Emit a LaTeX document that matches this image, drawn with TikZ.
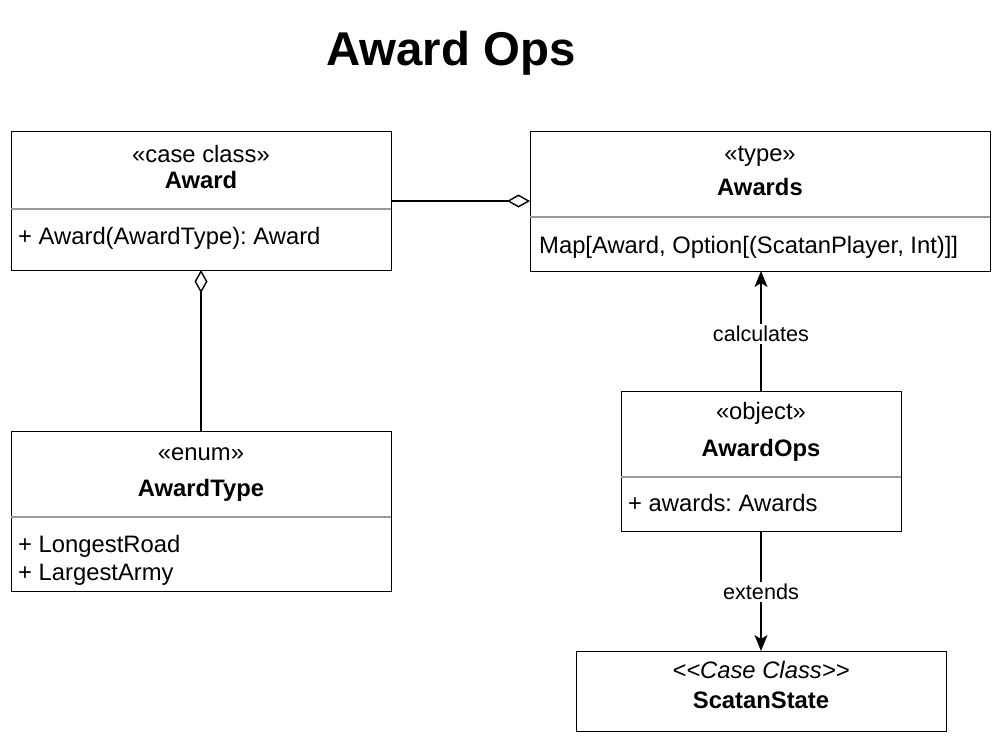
\documentclass[tikz,border=0pt]{standalone}
\usepackage{fontspec}
\setmainfont{Liberation Sans}[Ligatures=TeXOff]
\usetikzlibrary{arrows.meta}
\frenchspacing
\begin{document}
\frenchspacing
\begin{tikzpicture}[x=1pt,y=-1pt,
  box/.style={draw=black,line width=1.4pt,fill=white,rectangle,anchor=north west,inner sep=0pt},
  sep/.style={draw=black!40,line width=1.2pt},
  txt/.style={inner sep=0pt,anchor=base,font=\fontsize{23.8}{28}\selectfont},
  btxt/.style={txt,font=\fontsize{23.8}{28}\selectfont\bfseries},
  mem/.style={txt,anchor=base west},
  lbl/.style={fill=white,inner sep=2pt,font=\fontsize{21.6}{26}\selectfont},
  conn/.style={draw=black,line width=1.4pt},
  agg/.style={conn,-{Diamond[open,length=23pt,width=13pt,line width=1.4pt]}},
  dep/.style={conn,-{Stealth[length=16pt,width=13pt,inset=4pt]}}
]
\useasboundingbox (0,0) rectangle (1002,742);
\node[inner sep=0pt,anchor=base,font=\fontsize{47.4}{56}\selectfont\bfseries] (title) at (451,65) {Award Ops};

% Award
\node[box,minimum width=380pt,minimum height=139pt] (award) at (11,131) {};
\draw[sep] (11,209) -- (391,209);
\node[txt] (awardst) at (201,162) {«case class»};
\node[btxt] (awardnm) at (201,188) {Award};
\node[mem] (awardm) at (18,244) {+ Award(AwardType): Award};

% Awards
\node[box,minimum width=460pt,minimum height=140pt] (awards) at (530,131) {};
\draw[sep] (530,217) -- (990,217);
\node[txt] (awardsst) at (760,161) {«type»};
\node[btxt] (awardsnm) at (760,195) {Awards};
\node[mem] (awardsm) at (539,253) {Map[Award, Option[(ScatanPlayer, Int)]]};

% AwardType
\node[box,minimum width=380pt,minimum height=160pt] (awardtype) at (11,431) {};
\draw[sep] (11,517) -- (391,517);
\node[txt] (atst) at (201,460) {«enum»};
\node[btxt] (atnm) at (201,496) {AwardType};
\node[mem] (atm1) at (18,552) {+ LongestRoad};
\node[mem] (atm2) at (18,580) {+ LargestArmy};

% AwardOps
\node[box,minimum width=280pt,minimum height=140pt] (awardops) at (621,391) {};
\draw[sep] (621,477) -- (901,477);
\node[txt] (aost) at (761,419) {«object»};
\node[btxt] (aonm) at (761,456) {AwardOps};
\node[mem] (aom) at (628,511) {+ awards: Awards};

% ScatanState
\node[box,minimum width=370pt,minimum height=80pt] (scatan) at (576,651) {};
\node[txt,font=\fontsize{23.8}{28}\selectfont\itshape] (ssst) at (761,678) {<{}<Case Class>{}>};
\node[btxt] (ssnm) at (761,708) {ScatanState};

% connectors
\coordinate (a1) at (391,201);
\coordinate (a2) at (530,201);
\draw[agg] (a1) -- (a2);
\coordinate (b1) at (201,431);
\coordinate (b2) at (201,270);
\draw[agg] (b1) -- (b2);
\coordinate (c1) at (761,391);
\coordinate (c2) at (761,271);
\draw[dep] (c1) -- (c2);
\node[lbl] (calc) at (761,334) {calculates};
\coordinate (d1) at (761,531);
\coordinate (d2) at (761,651);
\draw[dep] (d1) -- (d2);
\node[lbl] (ext) at (761,592) {extends};
\end{tikzpicture}
\end{document}
